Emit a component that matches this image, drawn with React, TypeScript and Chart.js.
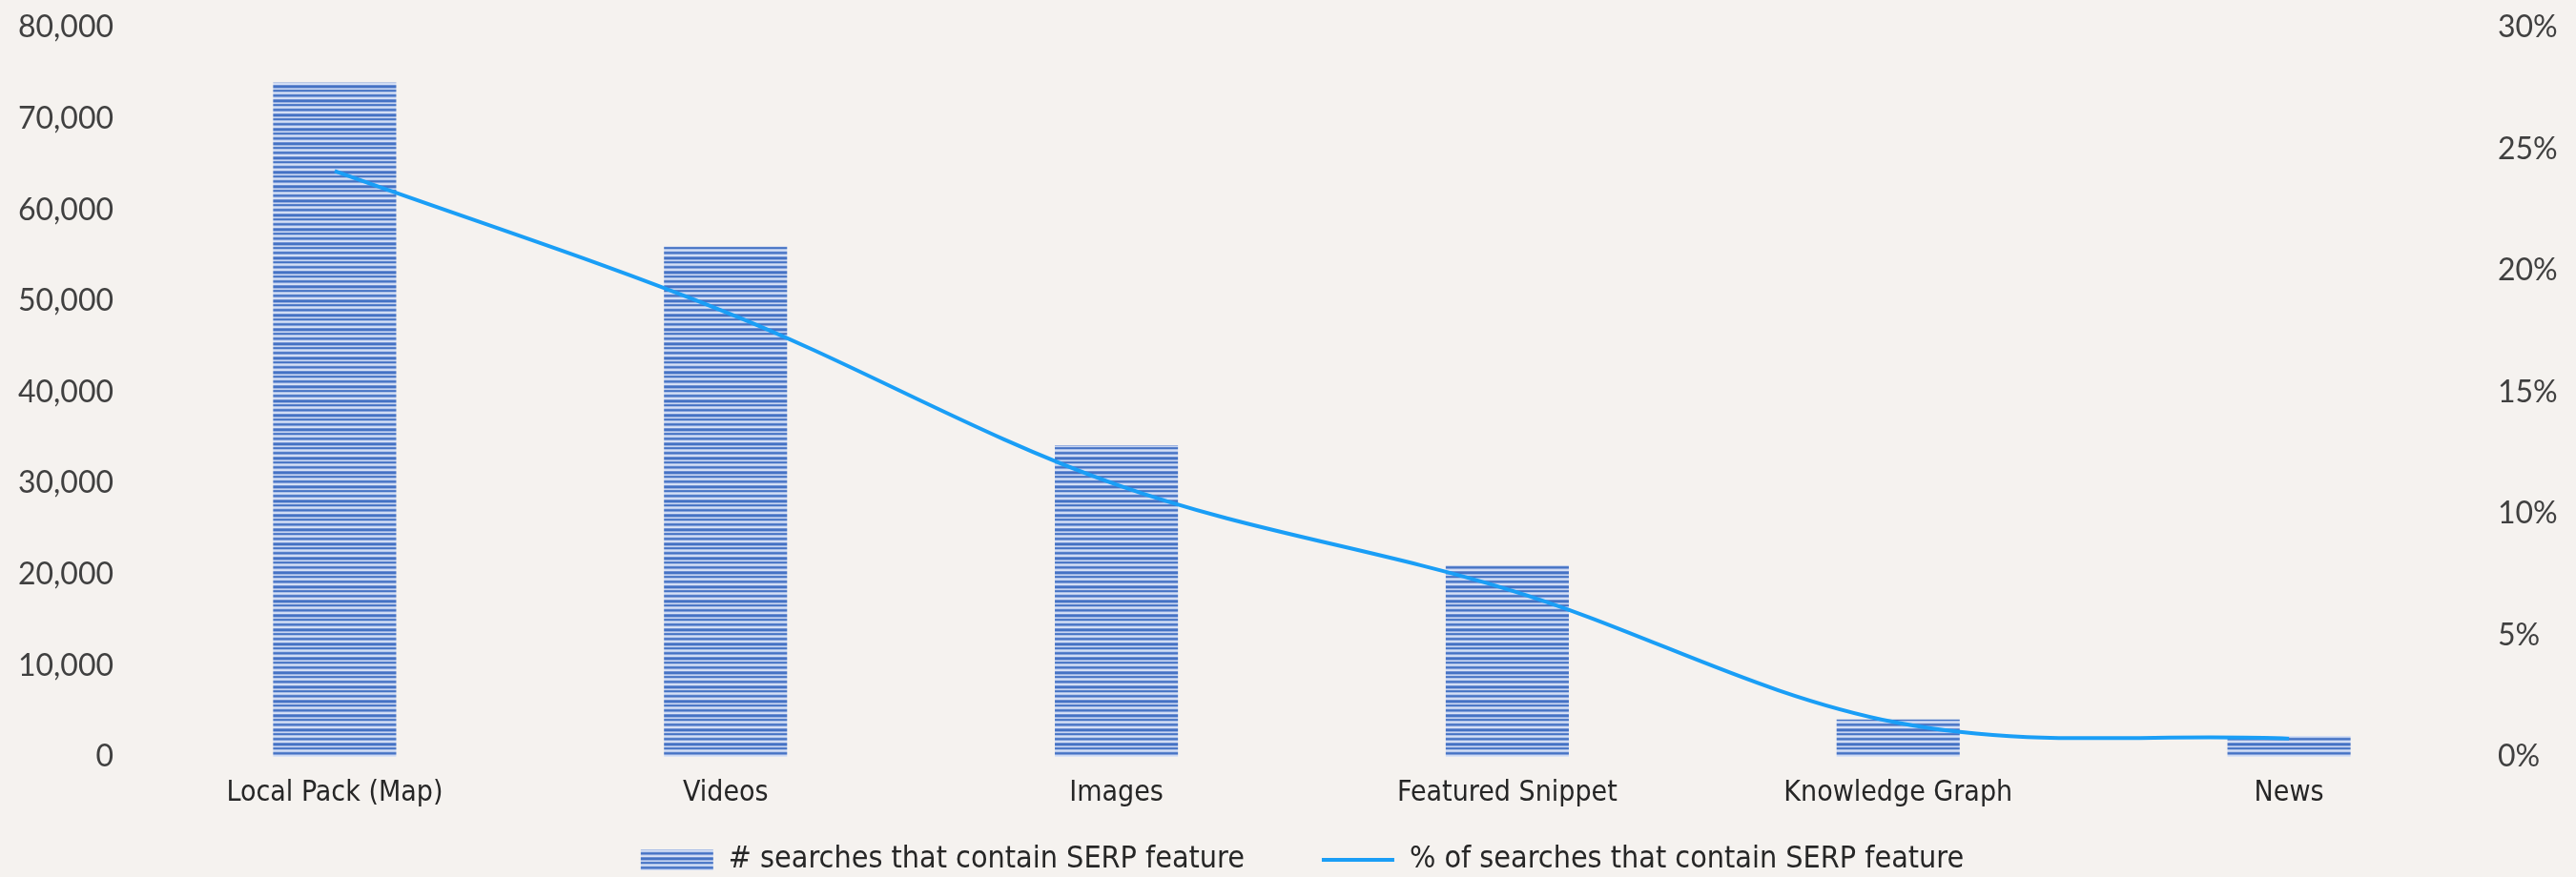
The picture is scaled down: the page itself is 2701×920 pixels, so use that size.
import React, { useEffect, useRef } from 'react';
import { Chart, registerables } from 'chart.js';

Chart.register(...registerables);

// ---- data ----
const categories = ['Local Pack (Map)', 'Videos', 'Images', 'Featured Snippet', 'Knowledge Graph', 'News'];
const searchCounts = [74000, 56000, 34200, 21000, 4100, 2300];
const searchSharePct = [24.1, 18.3, 11.2, 6.9, 1.4, 0.75];
const countAxisMax = 80000;
const countAxisStep = 10000;
const shareAxisMax = 30;
const shareAxisStep = 5;
const barSeriesName = '# searches that contain SERP feature';
const lineSeriesName = '% of searches that contain SERP feature';

// ---- styling ----
const BG = '#f5f2ef';
const NARROW = "'Liberation Sans Narrow', 'Arial Narrow', 'DejaVu Sans Condensed', 'Liberation Sans', sans-serif";
const TICK_FONT = "Lato, 'Open Sans', sans-serif";
const LINE_COLOR = '#1a9ef6';
const STRIPES = [
  '#4472c4', '#4472c4', '#9ab2e2', '#c7d5f1', '#5a82cb',
  '#4472c4', '#a9bfe7', '#d6e0f5', '#b9cbed', '#5b83cc',
  '#4472c4', '#83a0da', '#ccd9f3', '#d9e3f6', '#6f90d3',
];
const PLOT_TOP = 29;
const PLOT_LEFT = 146;
const PLOT_RIGHT_GAP = 96;
const PLOT_BOTTOM = 794;
const LEGEND_BOX_H = 40;
const LEGEND_PAD = 81;
const LEGEND_TEXT_CENTER = 902;
const LEGEND_FONT = 32;
const LEGEND_SHIFT_X = 15;

function makeStripePattern(ctx: CanvasRenderingContext2D): CanvasPattern | string {
  const c = document.createElement('canvas');
  c.width = 8;
  c.height = STRIPES.length;
  const g = c.getContext('2d');
  if (!g) return STRIPES[0];
  STRIPES.forEach((col, i) => {
    g.fillStyle = col;
    g.fillRect(0, i, 8, 1);
  });
  return ctx.createPattern(c, 'repeat') || STRIPES[0];
}

const noVerticalPadding = (scale: any) => {
  scale.paddingTop = 0;
  scale.paddingBottom = 0;
};

export default function App() {
  const canvasRef = useRef<HTMLCanvasElement>(null);

  useEffect(() => {
    document.body.style.margin = '0';
    document.body.style.background = BG;
    document.body.style.overflow = 'hidden';
    const canvas = canvasRef.current;
    if (!canvas) return;
    const ctx = canvas.getContext('2d');
    if (!ctx) return;
    const pattern = makeStripePattern(ctx);

    const legendPlacement = {
      id: 'legendPlacement',
      beforeLayout(chart: any) {
        const lg = chart.legend;
        if (lg && !lg.__fixedFit) {
          const origFit = lg.fit;
          lg.fit = function () {
            origFit.call(this);
            this.height = LEGEND_BOX_H;
          };
          lg.__fixedFit = true;
        }
      },
      afterLayout(chart: any) {
        const lg = chart.legend;
        if (!lg) return;
        lg.top = LEGEND_TEXT_CENTER - LEGEND_FONT / 2 - LEGEND_PAD;
        lg.bottom = chart.height;
        lg.height = lg.bottom - lg.top;
        lg.left = LEGEND_SHIFT_X * 2;
        lg.right = chart.width;
        lg.width = lg.right - lg.left;
      },
    };

    const chart = new Chart(canvas, {
      type: 'bar',
      data: {
        labels: categories,
        datasets: [
          {
            type: 'bar',
            label: barSeriesName,
            data: searchCounts,
            backgroundColor: pattern as any,
            borderWidth: 0,
            yAxisID: 'y',
            categoryPercentage: 1,
            barPercentage: 0.315,
            order: 1,
            pointStyle: 'rect',
          },
          {
            type: 'line',
            label: lineSeriesName,
            data: searchSharePct,
            borderColor: LINE_COLOR,
            backgroundColor: LINE_COLOR,
            borderWidth: 4,
            pointRadius: 0,
            pointHoverRadius: 0,
            tension: 0.35,
            fill: false,
            yAxisID: 'y1',
            order: 0,
            pointStyle: 'line',
          } as any,
        ],
      },
      options: {
        responsive: true,
        maintainAspectRatio: false,
        animation: false,
        layout: { padding: { top: PLOT_TOP, bottom: 0, left: 0, right: 0 } },
        plugins: {
          tooltip: { enabled: false },
          legend: {
            display: true,
            position: 'bottom',
            labels: {
              usePointStyle: true,
              pointStyleWidth: 76,
              boxHeight: 22,
              padding: LEGEND_PAD,
              color: '#262626',
              font: { family: NARROW, size: LEGEND_FONT },
              sort: (a: any, b: any) => a.datasetIndex - b.datasetIndex,
            },
          },
        },
        scales: {
          x: {
            grid: { display: false, drawTicks: false },
            border: { display: false },
            ticks: {
              color: '#262626',
              font: { family: NARROW, size: 30 },
              padding: 20,
              maxRotation: 0,
              autoSkip: false,
            },
            afterFit: (scale: any) => {
              scale.height = 920 - PLOT_BOTTOM - LEGEND_BOX_H;
            },
          },
          y: {
            position: 'left',
            min: 0,
            max: countAxisMax,
            grid: { display: false, drawTicks: false },
            border: { display: false },
            ticks: {
              stepSize: countAxisStep,
              color: '#404040',
              font: { family: TICK_FONT, size: 32 },
              padding: 27,
              callback: (v: any) => Number(v).toLocaleString('en-US'),
            },
            afterFit: (scale: any) => {
              scale.width = PLOT_LEFT;
              noVerticalPadding(scale);
            },
          },
          y1: {
            position: 'right',
            min: 0,
            max: shareAxisMax,
            grid: { display: false, drawTicks: false },
            border: { display: false },
            ticks: {
              stepSize: shareAxisStep,
              color: '#404040',
              font: { family: TICK_FONT, size: 32 },
              padding: 14,
              callback: (v: any) => `${v}%`,
            },
            afterFit: (scale: any) => {
              scale.width = PLOT_RIGHT_GAP;
              noVerticalPadding(scale);
            },
          },
        },
      },
      plugins: [legendPlacement],
    });

    return () => chart.destroy();
  }, []);

  return (
    <div style={{ width: 2701, height: 920, position: 'relative', background: BG }}>
      <canvas ref={canvasRef} />
    </div>
  );
}
